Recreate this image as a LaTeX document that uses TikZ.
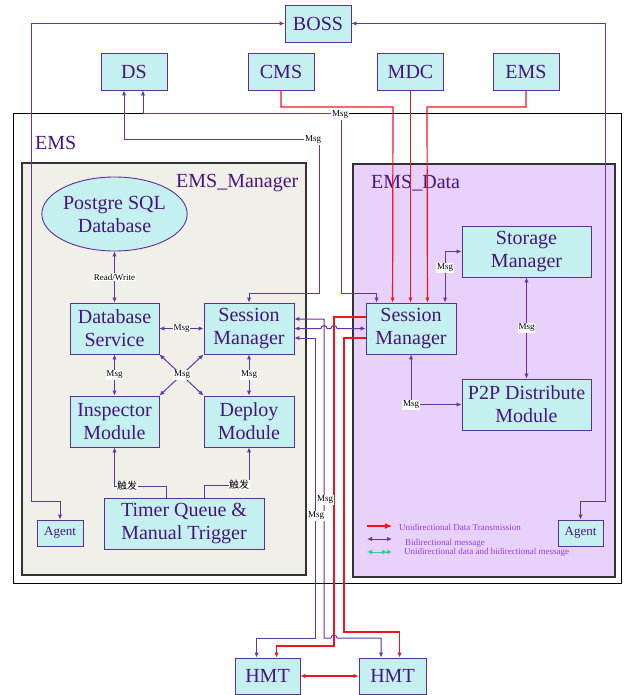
\documentclass[tikz,border=0pt]{standalone}
\usepackage{fontspec}
\setmainfont{Liberation Serif}
\newfontfamily\cjkfont{Noto Sans CJK SC}
\usetikzlibrary{arrows.meta,shapes.geometric,calc}

\definecolor{boxfill}{RGB}{196,240,240}
\definecolor{boxline}{RGB}{95,45,160}
\definecolor{boxtext}{RGB}{72,20,130}
\definecolor{wire}{RGB}{100,50,170}
\definecolor{datared}{RGB}{238,22,28}
\definecolor{mgrfill}{RGB}{240,240,232}
\definecolor{datafill}{RGB}{232,210,252}
\definecolor{legendtext}{RGB}{150,60,235}
\definecolor{legendgreen}{RGB}{50,205,150}

\begin{document}
\begin{tikzpicture}[x=1pt,y=-1pt,
  >={Latex[length=5pt,width=4.5pt]},
  module/.style={draw=boxline, fill=boxfill, line width=0.9pt, text=boxtext,
    font=\fontsize{20}{23}\selectfont, align=center, inner sep=0pt},
  sz/.style 2 args={minimum width=#1pt, minimum height=#2pt},
  small/.style={module, font=\fontsize{13}{15}\selectfont},
  container/.style={draw=black!80, line width=1.2pt},
  title/.style={text=boxtext, font=\fontsize{20}{23}\selectfont, anchor=west, inner sep=0pt},
  msgline/.style={draw=wire, line width=1pt},
  dataline/.style={draw=datared, line width=1.2pt},
  lbl/.style={fill=white, text=black, font=\fontsize{9}{9}\selectfont, inner sep=0.8pt},
  cjklbl/.style={fill=white, text=black, font=\cjkfont\fontsize{10}{10}\selectfont, inner sep=0.5pt},
  legend/.style={text=legendtext, font=\fontsize{9}{9}\selectfont, anchor=west, inner sep=0pt}
]
\useasboundingbox (0,0) rectangle (624,695);

% enclosing frames
\draw[black, line width=0.8pt] (13,113) rectangle (621,583);
\node[title] (emsT) at (35,143) {EMS};
\draw[container, fill=mgrfill] (22,163) rectangle (306,575);
\node[title] (mgrT) at (176,183) {EMS\_Manager};
\draw[container, fill=datafill] (353,164) rectangle (615,577);
\node[title] (dataT) at (371,183) {EMS\_Data};

% external systems
\node[module, sz={66}{37}] (BOSS) at (318,23.5) {BOSS};
\node[module, sz={66}{37}] (DS)   at (134,71.5) {DS};
\node[module, sz={66}{37}] (CMS)  at (281,71.5) {CMS};
\node[module, sz={66}{37}] (MDC)  at (410.5,71.5) {MDC};
\node[module, sz={66}{37}] (EMSx) at (526,71.5) {EMS};

% EMS_Manager
\node[module, ellipse, sz={142}{74}] (PG) at (114.5,214) {Postgre SQL\\Database};
\node[module, sz={89}{51}] (DBS)  at (114.5,328.5) {Database\\Service};
\node[module, sz={90}{51}] (SML)  at (249,328.5) {Session\\Manager};
\node[module, sz={89}{51}] (Insp) at (114.5,421.5) {Inspector\\Module};
\node[module, sz={90}{51}] (Dep)  at (249,421.5) {Deploy\\Module};
\node[module, sz={160}{51}] (Timer) at (184,523.5) {Timer Queue \&\\Manual Trigger};
\node[small, sz={46}{26}] (AgentL) at (60,533) {Agent};

% EMS_Data
\node[module, sz={90}{51}] (SMR) at (411,328.5) {Session\\Manager};
\node[module, sz={129}{51}] (Storage) at (526.5,251.5) {Storage\\Manager};
\node[module, sz={129}{51}] (P2P) at (526.5,404.5) {P2P Distribute\\Module};
\node[small, sz={45}{26}] (AgentR) at (580.5,533) {Agent};

% hosts
\node[module, sz={65}{36}] (HMTL) at (267.5,676) {HMT};
\node[module, sz={67}{36}] (HMTR) at (392.5,676) {HMT};

% agents report to BOSS
\draw[msgline, <->] (BOSS.west) -| (31,501) -| (AgentL.north);
\draw[msgline, <->] (BOSS.east) -| (605,501) -| (AgentR.north);

% DS to both session managers
\draw[msgline, <->] (DS.south -| 124,0) |- (319,140) -- (319,293) -| (SML.north);
\draw[msgline, <->] (DS.south -| 143,0) |- (341,114) -- (341,293) -| ($(SMR.north west)+(11,0)$);

% data feeds into the data session manager
\draw[dataline, ->] (CMS.south) |- (393,107) -- ($(SMR.north west)+(27,0)$);
\draw[dataline, ->] (MDC.south) -- (MDC.south |- SMR.north);
\draw[dataline, ->] (EMSx.south) |- (427,107) -- ($(SMR.north east)+(-29,0)$);

% session managers and hosts
\draw[msgline, <->] ($(SML.east)+(0,-9.5)$) -- (324,319) -- (324,638) -- (331,638)
  arc[start angle=180, end angle=360, radius=3] -- (381,638) -- (HMTR.north -| 381,0);
\draw[msgline, <->] ($(SML.east)+(0,9.5)$) -- (315,338) -- (315,638) -| ($(HMTL.north west)+(22,0)$);
\draw[msgline, <->] (SML.east) -- (321,328.5)
  arc[start angle=180, end angle=360, radius=3] -- (331,328.5)
  arc[start angle=180, end angle=360, radius=3] -- (SMR.west);
\draw[dataline, ->] ($(SMR.west)+(0,-11.5)$) -- (334,317) -- (334,646) -| ($(HMTL.north west)+(42,0)$);
\draw[dataline, ->] ($(SMR.west)+(0,9.5)$) -- (344,338) -- (344,632) -| ($(HMTR.north west)+(41,0)$);
\draw[dataline, <->] (HMTL.east) -- (HMTR.west);

% EMS_Manager internals
\draw[msgline, <->] (PG.south) -- (DBS.north) node[midway, lbl] (rw) {Read/Write};
\draw[msgline, <->] (DBS.east) -- (SML.west) node[midway, lbl] (m3) {Msg};
\draw[msgline, <->] (DBS.south) -- (Insp.north) node[midway, lbl] (m4) {Msg};
\draw[msgline, <->] (SML.south) -- (Dep.north) node[midway, lbl] (m5) {Msg};
\draw[msgline, <->] (DBS.south east) -- (Dep.north west);
\draw[msgline, <->] (SML.south west) -- (Insp.north east);
\draw[msgline, ->] (Timer.north -| 166,0) |- (114.5,486) -- (Insp.south);
\draw[msgline, ->] (Timer.north -| 204,0) |- (249,485) -- (Dep.south);

% EMS_Data internals
\draw[msgline, <->] (SMR.north -| 445,0) |- (Storage.west);
\draw[msgline, <->] (Storage.south) -- (P2P.north) node[midway, lbl] (m8) {Msg};
\draw[msgline, <->] (SMR.south) |- (P2P.west);

% labels on the connectors
\node[lbl] (m1) at (313,140) {Msg};
\node[lbl] (m2) at (340,115) {Msg};
\node[lbl] (m6) at (182,375) {Msg};
\node[lbl] (m7) at (445,268) {Msg};
\node[lbl] (m9) at (411,405) {Msg};
\node[lbl] (m10) at (325,500) {Msg};
\node[lbl] (m11) at (316,516) {Msg};
\node[cjklbl] (t1) at (127,486) {触发};
\node[cjklbl] (t2) at (239,485) {触发};

% legend
\coordinate (la) at (367,526);
\coordinate (lb) at (392,526);
\draw[dataline, -{Latex[length=7pt,width=6pt]}] (la) -- (lb);
\node[legend] (lg1) at (399,527) {Unidirectional Data Transmission};
\coordinate (lc) at (367,539);
\coordinate (ld) at (392,539);
\draw[msgline, <->] (lc) -- (ld);
\node[legend] (lg2) at (405,543) {Bidirectional message};
\coordinate (le) at (367,552);
\coordinate (lf) at (392,552);
\draw[draw=legendgreen, line width=1pt, {Latex[length=5pt,width=5pt]}-{Latex[length=5pt,width=5pt] Latex[length=5pt,width=5pt]}] (le) -- (lf);
\node[legend] (lg3) at (404,552) {Unidirectional data and bidirectional message};
\end{tikzpicture}
\end{document}
